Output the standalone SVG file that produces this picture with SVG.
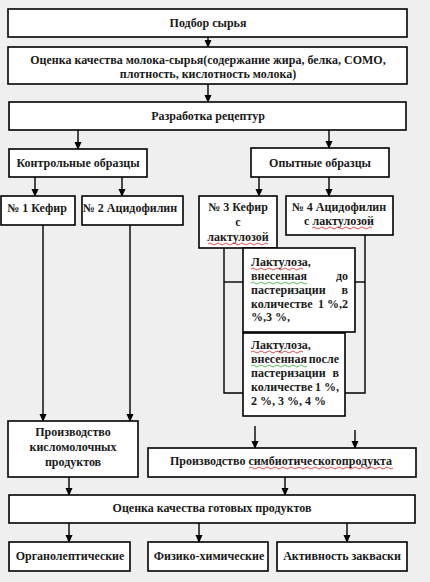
<svg xmlns="http://www.w3.org/2000/svg" width="430" height="582" viewBox="0 0 430 582">
<defs>
<style>
.box{fill:#fff;stroke:#000;stroke-width:1.6}
.t{font-family:"Liberation Serif","Times New Roman",serif;font-size:12px;font-weight:bold;fill:#1a1a1a;text-anchor:middle}
.l{text-anchor:start}
.e{text-anchor:end}
.c{stroke:#000;stroke-width:1.4;fill:none}
.w{stroke:#d22;stroke-width:0.8;fill:none}
.g{stroke:#3a3;stroke-width:0.8;fill:none}
</style>
<marker id="ah" viewBox="0 0 8 8" refX="7" refY="4" markerWidth="8" markerHeight="8" markerUnits="userSpaceOnUse" orient="auto">
<path d="M0,0.5 L8,4 L0,7.5 z" fill="#000"/>
</marker>
</defs>
<rect width="430" height="582" fill="#efefef"/>

<g id="connectors">
<line class="c" x1="208" y1="37" x2="208" y2="47" marker-end="url(#ah)"/>
<line class="c" x1="208" y1="84" x2="208" y2="102" marker-end="url(#ah)"/>
<line class="c" x1="78" y1="130" x2="78" y2="149" marker-end="url(#ah)"/>
<line class="c" x1="329" y1="130" x2="329" y2="148" marker-end="url(#ah)"/>
<line class="c" x1="35" y1="177" x2="35" y2="196" marker-end="url(#ah)"/>
<line class="c" x1="122" y1="177" x2="122" y2="196" marker-end="url(#ah)"/>
<line class="c" x1="259" y1="177" x2="259" y2="196" marker-end="url(#ah)"/>
<line class="c" x1="329" y1="177" x2="329" y2="196" marker-end="url(#ah)"/>
<line class="c" x1="43" y1="225" x2="43" y2="421" marker-end="url(#ah)"/>
<line class="c" x1="130" y1="225" x2="130" y2="421" marker-end="url(#ah)"/>
<polyline class="c" points="224,248 224,393 243,393"/>
<line class="c" x1="224" y1="282" x2="243" y2="282"/>
<polyline class="c" points="365,235 365,393 345,393"/>
<line class="c" x1="347" y1="282" x2="365" y2="282"/>
<line class="c" x1="255" y1="426" x2="255" y2="448" marker-end="url(#ah)"/>
<line class="c" x1="355" y1="430" x2="355" y2="448" marker-end="url(#ah)"/>
<line class="c" x1="69" y1="477" x2="69" y2="495" marker-end="url(#ah)"/>
<line class="c" x1="285" y1="477" x2="285" y2="495" marker-end="url(#ah)"/>
<line class="c" x1="69" y1="523" x2="69" y2="542" marker-end="url(#ah)"/>
<line class="c" x1="199" y1="523" x2="199" y2="542" marker-end="url(#ah)"/>
<line class="c" x1="347" y1="523" x2="347" y2="542" marker-end="url(#ah)"/>
</g>

<g id="n1"><rect class="box" x="8" y="9" width="399" height="28"/><text class="t" x="208" y="27">Подбор сырья</text></g>
<g id="n2"><rect class="box" x="8" y="47" width="399" height="37"/><text class="t" x="208" y="63.5">Оценка качества молока-сырья(содержание жира, белка, СОМО,</text><text class="t" x="208" y="78">плотность, кислотность молока)</text></g>
<g id="n3"><rect class="box" x="9" y="102" width="397" height="28"/><text class="t" x="208" y="120">Разработка рецептур</text></g>
<g id="n4"><rect class="box" x="9" y="149" width="138" height="28"/><text class="t" x="78" y="167">Контрольные образцы</text></g>
<g id="n5"><rect class="box" x="251" y="148" width="138" height="29"/><text class="t" x="320" y="167">Опытные образцы</text></g>
<g id="n6"><rect class="box" x="1" y="196" width="74" height="29"/><text class="t" x="37" y="212">№ 1 Кефир</text></g>
<g id="n7"><rect class="box" x="82" y="196" width="101" height="29"/><text class="t" x="130" y="212">№ 2 Ацидофилин</text></g>
<g id="n8"><rect class="box" x="199" y="196" width="78" height="52"/><text class="t" x="238" y="211">№ 3 Кефир</text><text class="t" x="238" y="226">с</text><text class="t" x="238" y="241">лактулозой</text><path class="w" d="M208,244 q2,-2 4,0 t4,0 t4,0 t4,0 t4,0 t4,0 t4,0 t4,0 t4,0 t4,0 t4,0 t4,0 t4,0 t4,0 t4,0"/></g>
<g id="n9"><rect class="box" x="286" y="196" width="107" height="39"/><text class="t" x="339" y="211">№ 4 Ацидофилин</text><text class="t" x="339" y="225">с лактулозой</text><path class="w" d="M312,228 q2,-2 4,0 t4,0 t4,0 t4,0 t4,0 t4,0 t4,0 t4,0 t4,0 t4,0 t4,0 t4,0 t4,0 t4,0 t4,0"/></g>
<g id="n10"><rect class="box" x="243" y="248" width="112" height="84"/>
<text class="t l" x="251" y="266">Лактулоза,</text>
<text class="t l" x="251" y="280">внесенная</text><text class="t e" x="348" y="280">до</text>
<text class="t l" x="251" y="294">пастеризации</text><text class="t e" x="348" y="294">в</text>
<text class="t l" x="251" y="308">количестве</text><text class="t e" x="348" y="308">1 %,2</text>
<text class="t l" x="251" y="321">%,3 %,</text>
<path class="w" d="M251,269 q2,-2 4,0 t4,0 t4,0 t4,0 t4,0 t4,0 t4,0 t4,0 t4,0 t4,0 t4,0 t4,0 t4,0"/>
<path class="g" d="M251,283 q2,-2 4,0 t4,0 t4,0 t4,0 t4,0 t4,0 t4,0 t4,0 t4,0 t4,0 t4,0 t4,0 t4,0 t4,0"/>
</g>
<g id="n11"><rect class="box" x="243" y="333" width="102" height="83"/>
<text class="t l" x="251" y="349">Лактулоза,</text>
<text class="t l" x="251" y="363">внесенная</text><text class="t e" x="339" y="363">после</text>
<text class="t l" x="251" y="377">пастеризации</text><text class="t e" x="339" y="377">в</text>
<text class="t l" x="251" y="391">количестве</text><text class="t e" x="339" y="391">1 %,</text>
<text class="t l" x="251" y="405">2 %, 3 %, 4 %</text>
<path class="w" d="M251,352 q2,-2 4,0 t4,0 t4,0 t4,0 t4,0 t4,0 t4,0 t4,0 t4,0 t4,0 t4,0 t4,0 t4,0"/>
<path class="g" d="M251,366 q2,-2 4,0 t4,0 t4,0 t4,0 t4,0 t4,0 t4,0 t4,0 t4,0 t4,0 t4,0 t4,0 t4,0 t4,0"/>
</g>
<g id="n12"><rect class="box" x="8" y="421" width="130" height="56"/><text class="t" x="73" y="436">Производство</text><text class="t" x="73" y="451">кисломолочных</text><text class="t" x="73" y="466">продуктов</text></g>
<g id="n13"><rect class="box" x="148" y="448" width="268" height="29"/><text class="t" x="281" y="465">Производство симбиотическогопродукта</text><path class="w" d="M249,468 q2,-2 4,0 t4,0 t4,0 t4,0 t4,0 t4,0 t4,0 t4,0 t4,0 t4,0 t4,0 t4,0 t4,0 t4,0 t4,0 t4,0 t4,0 t4,0 t4,0 t4,0 t4,0 t4,0 t4,0 t4,0 t4,0 t4,0 t4,0 t4,0 t4,0 t4,0 t4,0 t4,0 t4,0 t4,0 t4,0 t4,0"/></g>
<g id="n14"><rect class="box" x="9" y="495" width="406" height="28"/><text class="t" x="212" y="512">Оценка качества готовых продуктов</text></g>
<g id="n15"><rect class="box" x="9" y="542" width="121" height="29"/><text class="t" x="70" y="560">Органолептические</text></g>
<g id="n16"><rect class="box" x="148" y="542" width="120" height="29"/><text class="t" x="209" y="560">Физико-химические</text></g>
<g id="n17"><rect class="box" x="277" y="542" width="130" height="29"/><text class="t" x="342" y="560">Активность закваски</text></g>
</svg>
